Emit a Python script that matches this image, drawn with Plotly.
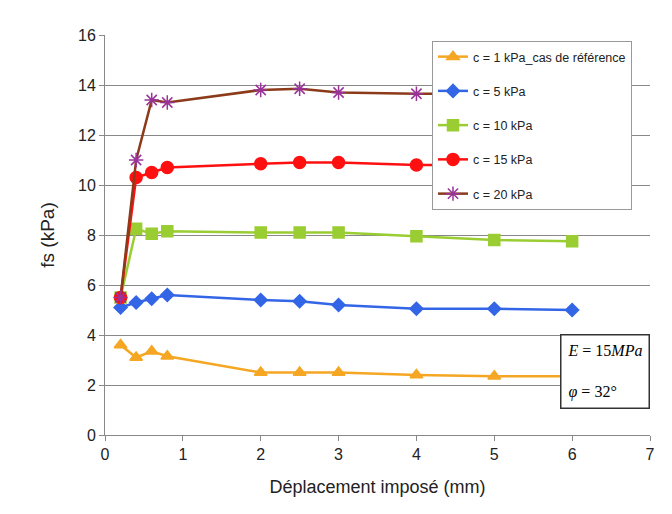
import plotly.graph_objects as go

x_mm = [0.2, 0.4, 0.6, 0.8, 2, 2.5, 3, 4, 5, 6]
names = ["c = 1 kPa_cas de référence", "c = 5 kPa", "c = 10 kPa", "c = 15 kPa", "c = 20 kPa"]
fs_c1 = [3.6, 3.1, 3.35, 3.15, 2.5, 2.5, 2.5, 2.4, 2.35, 2.35]
fs_c5 = [5.1, 5.3, 5.45, 5.6, 5.4, 5.35, 5.2, 5.05, 5.05, 5.0]
fs_c10 = [5.5, 8.25, 8.05, 8.15, 8.1, 8.1, 8.1, 7.95, 7.8, 7.75]
fs_c15 = [5.5, 10.3, 10.5, 10.7, 10.85, 10.9, 10.9, 10.8, 10.8, 10.8]
fs_c20 = [5.5, 11.0, 13.4, 13.3, 13.8, 13.85, 13.7, 13.65, 13.65, 13.65]

series = [fs_c1, fs_c5, fs_c10, fs_c15, fs_c20]
line_colors = ["#F5A623", "#3366E6", "#9ACD32", "#FF1010", "#8B3A1A"]
marker_colors = ["#F5A623", "#3366E6", "#9ACD32", "#FF1010", "#993399"]
symbols = ["triangle-up", "diamond", "square", "circle", "asterisk-open"]
sizes = [11, 10, 11, 12, 12]

fig = go.Figure()
for i, (nm, ys) in enumerate(zip(names, series)):
    fig.add_trace(go.Scatter(
        x=x_mm, y=ys, name=nm, mode="lines+markers",
        legendgroup=str(i),
        line=dict(color=line_colors[i], width=2.5),
        marker=dict(symbol=symbols[i], size=sizes[i], color=marker_colors[i],
                    line=dict(color=marker_colors[i], width=1.5)),
    ))

fig.add_annotation(
    x=1.0, y=0.16, xref="paper", yref="paper", xanchor="right", yanchor="middle",
    text="<i>E</i> = 15<i>MPa</i><br><br><i>φ</i> = 32°",
    showarrow=False, align="left",
    font=dict(family="Liberation Serif", size=16, color="black"),
    bordercolor="#333333", borderwidth=1.5, borderpad=6, bgcolor="white",
)

fig.update_layout(
    width=672, height=514,
    margin=dict(l=97, r=30, t=27, b=87),
    paper_bgcolor="white", plot_bgcolor="white",
    font=dict(family="Liberation Sans", size=16, color="#222222"),
    showlegend=True,
    legend=dict(
        x=0.6, y=0.985, xanchor="left", yanchor="top",
        bgcolor="white", bordercolor="#999999", borderwidth=1,
        font=dict(size=12.5, family="Liberation Sans"),
        traceorder="grouped", tracegroupgap=15,
    ),
    xaxis=dict(
        range=[0, 7], dtick=1, showgrid=False, zeroline=False,
        showline=True, linecolor="#888888", linewidth=1,
        ticks="outside", ticklen=5, tickcolor="#888888",
        title=dict(text="Déplacement imposé (mm)", font=dict(size=18), standoff=18),
    ),
    yaxis=dict(
        range=[0, 16], dtick=2, showgrid=True, gridcolor="#888888", gridwidth=1,
        zeroline=False, showline=True, linecolor="#888888", linewidth=1,
        ticks="outside", ticklen=5, tickcolor="#888888",
        title=dict(text="fs (kPa)", font=dict(size=19), standoff=18),
    ),
)

fig.write_html("out.html")
